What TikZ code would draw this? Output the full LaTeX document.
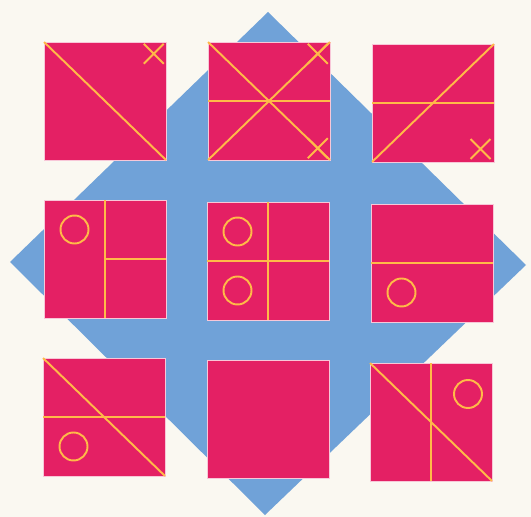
\documentclass[tikz,border=0pt]{standalone}
\usepackage{tikz}
\usetikzlibrary{calc, shapes.misc}

\definecolor{tilepink}{RGB}{228,32,100}
\definecolor{skyblue}{RGB}{112,162,216}
\definecolor{lineyellow}{RGB}{255,186,72}
\definecolor{paper}{RGB}{250,248,241}

\begin{document}
\begin{tikzpicture}[x=0.02cm, y=-0.02cm,
    tile/.style={draw=tilepink!25!white, line width=0.5pt, fill=tilepink,
      minimum width=2.44cm, minimum height=2.36cm, inner sep=0pt, outer sep=0pt},
    guide/.style={draw=lineyellow, line width=1.1pt},
    ring/.style={circle, draw=lineyellow, line width=1.1pt,
      minimum size=0.56cm, inner sep=0pt},
    tick/.style={cross out, draw=lineyellow, line width=1.1pt,
      minimum size=0.36cm, inner sep=0pt},
  ]
    \fill[paper] (0,0) rectangle (531,517);

    \coordinate (top) at (268,12);
    \coordinate (right) at (526,265);
    \coordinate (bottom) at (265,515);
    \coordinate (left) at (10,262);
    \fill[skyblue] (top) -- (right) -- (bottom) -- (left) -- cycle;

    \node[tile] (t1) at (105,101) {};
    \node[tile] (t2) at (269,101) {};
    \node[tile] (t3) at (433,103) {};
    \node[tile] (t4) at (105,259) {};
    \node[tile] (t5) at (268,261) {};
    \node[tile] (t6) at (432,263) {};
    \node[tile] (t7) at (104,417) {};
    \node[tile] (t8) at (268,419) {};
    \node[tile] (t9) at (431,422) {};

    \draw[guide] (t1.north west) -- (t1.south east);
    \node[tick] (x1) at ($(t1.north east)!0.1!(t1.south west)$) {};

    \draw[guide] (t2.north west) -- (t2.south east);
    \draw[guide] (t2.south west) -- (t2.north east);
    \draw[guide] (t2.west) -- (t2.east);
    \node[tick] (x2a) at ($(t2.north east)!0.1!(t2.south west)$) {};
    \node[tick] (x2b) at ($(t2.south east)!0.1!(t2.north west)$) {};

    \draw[guide] (t3.south west) -- (t3.north east);
    \draw[guide] (t3.west) -- (t3.east);
    \node[tick] (x3) at ($(t3.south east)!0.11!(t3.north west)$) {};

    \draw[guide] (t4.north) -- (t4.south);
    \draw[guide] (t4.center) -- (t4.east);
    \node[ring] (o4) at ($(t4.center)!0.5!(t4.north west)$) {};

    \draw[guide] (t5.north) -- (t5.south);
    \draw[guide] (t5.west) -- (t5.east);
    \node[ring] (o5a) at ($(t5.center)!0.5!(t5.north west)$) {};
    \node[ring] (o5b) at ($(t5.center)!0.5!(t5.south west)$) {};

    \draw[guide] (t6.west) -- (t6.east);
    \node[ring] (o6) at ($(t6.center)!0.5!(t6.south west)$) {};

    \draw[guide] (t7.north west) -- (t7.south east);
    \draw[guide] (t7.west) -- (t7.east);
    \node[ring] (o7) at ($(t7.center)!0.5!(t7.south west)$) {};

    \draw[guide] (t9.north west) -- (t9.south east);
    \draw[guide] (t9.north) -- (t9.south);
    \node[ring] (o9) at ($(t9.center)+(37,-28)$) {};
  \end{tikzpicture}
\end{document}
